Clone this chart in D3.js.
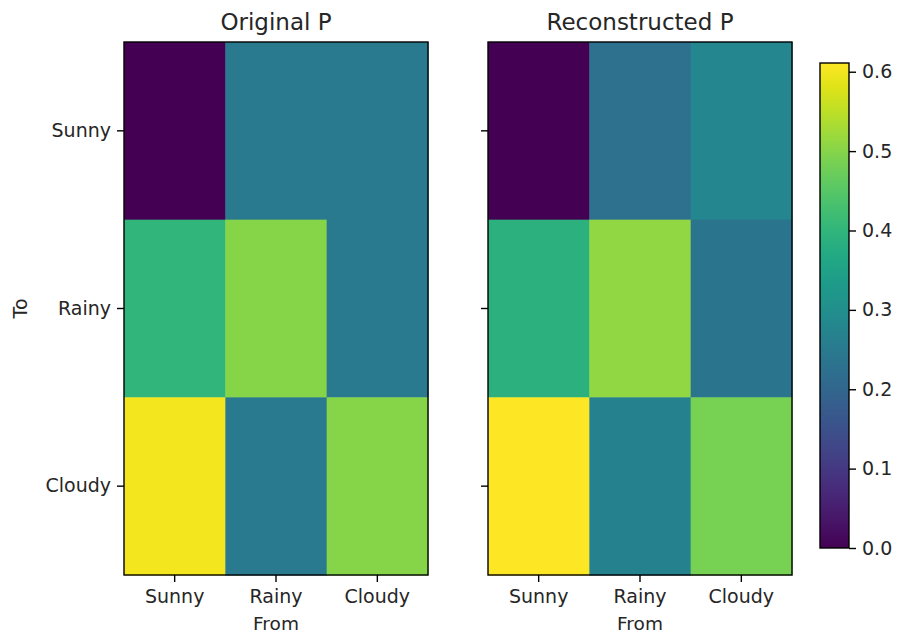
<!DOCTYPE html>
<html>
<head>
<meta charset="utf-8">
<script src="https://cdn.jsdelivr.net/npm/d3@7"></script>
<style>
  html, body { margin: 0; padding: 0; background: #fff; }
  svg { display: block; font-family: "DejaVu Sans", sans-serif; }
</style>
</head>
<body>
<svg id="chart" width="904" height="635"></svg>
<script>
// Weather states (rows = "To", columns = "From")
const states = ["Sunny", "Rainy", "Cloudy"];

// Transition matrix as given
const originalP = [
  [0.00, 0.25, 0.25],
  [0.40, 0.50, 0.25],
  [0.60, 0.25, 0.50]
];

// Transition matrix recovered from data
const reconstructedP = [
  [0.000, 0.225, 0.280],
  [0.390, 0.510, 0.235],
  [0.611, 0.265, 0.485]
];

const panelTitles = ["Original P", "Reconstructed P"];
const colorTicks = [0.0, 0.1, 0.2, 0.3, 0.4, 0.5, 0.6];
const colorMax = 0.611;

const svg = d3.select("#chart");
const color = d3.scaleSequential(d3.interpolateViridis).domain([0, colorMax]);

const tickFont = 19, titleFont = 23;
const lineW = 1.4, tickLen = 7;
const textColor = "#262626";

const plotTop = 42, plotBottom = 575;
const panels = [
  { left: 124, right: 428, data: originalP, title: panelTitles[0], yLabels: true },
  { left: 488, right: 792, data: reconstructedP, title: panelTitles[1], yLabels: false }
];

const y = d3.scaleBand().domain(states).range([plotTop, plotBottom]).padding(0);

function styleAxis(sel, showText) {
  sel.select(".domain").remove();
  sel.selectAll("line").attr("stroke", "#000").attr("stroke-width", lineW);
  if (showText) {
    sel.selectAll("text")
      .attr("font-size", tickFont)
      .attr("font-family", "DejaVu Sans")
      .attr("fill", textColor);
  } else {
    sel.selectAll("text").remove();
  }
}

panels.forEach(p => {
  const x = d3.scaleBand().domain(states).range([p.left, p.right]).padding(0);
  const g = svg.append("g");

  const cells = [];
  p.data.forEach((row, i) => row.forEach((v, j) => cells.push({ to: states[i], from: states[j], v })));

  g.selectAll("rect.cell").data(cells).join("rect")
    .attr("class", "cell")
    .attr("x", d => x(d.from))
    .attr("y", d => y(d.to))
    .attr("width", x.bandwidth() + 0.5)
    .attr("height", y.bandwidth() + 0.5)
    .attr("fill", d => color(d.v));

  // frame
  g.append("rect")
    .attr("x", p.left).attr("y", plotTop)
    .attr("width", p.right - p.left).attr("height", plotBottom - plotTop)
    .attr("fill", "none").attr("stroke", "#000").attr("stroke-width", lineW);

  // x axis
  const xAxis = g.append("g")
    .attr("transform", `translate(0,${plotBottom})`)
    .call(d3.axisBottom(x).tickSize(tickLen).tickPadding(8));
  styleAxis(xAxis, true);

  // y axis
  const yAxis = g.append("g")
    .attr("transform", `translate(${p.left},0)`)
    .call(d3.axisLeft(y).tickSize(tickLen).tickPadding(6));
  styleAxis(yAxis, p.yLabels);

  // title
  g.append("text")
    .attr("x", (p.left + p.right) / 2).attr("y", 30)
    .attr("text-anchor", "middle")
    .attr("font-size", titleFont).attr("fill", textColor)
    .text(p.title);

  // x label
  g.append("text")
    .attr("x", (p.left + p.right) / 2).attr("y", 630)
    .attr("text-anchor", "middle")
    .attr("font-size", 18.5).attr("fill", textColor)
    .text("From");

  if (p.yLabels) {
    g.append("text")
      .attr("transform", `translate(27,${(plotTop + plotBottom) / 2}) rotate(-90)`)
      .attr("text-anchor", "middle")
      .attr("font-size", tickFont).attr("fill", textColor)
      .text("To");
  }
});

// colorbar
const cbLeft = 820, cbRight = 849, cbTop = 63, cbBottom = 548;
const cy = d3.scaleLinear().domain([0, colorMax]).range([cbBottom, cbTop]);
const defs = svg.append("defs");
const grad = defs.append("linearGradient").attr("id", "cbgrad")
  .attr("x1", 0).attr("y1", 1).attr("x2", 0).attr("y2", 0);
d3.range(0, 1.0001, 0.05).forEach(t => {
  grad.append("stop").attr("offset", t).attr("stop-color", color(t * colorMax));
});
svg.append("rect")
  .attr("x", cbLeft).attr("y", cbTop)
  .attr("width", cbRight - cbLeft).attr("height", cbBottom - cbTop)
  .attr("fill", "url(#cbgrad)")
  .attr("stroke", "#000").attr("stroke-width", lineW);

const cAxis = svg.append("g")
  .attr("transform", `translate(${cbRight},0)`)
  .call(d3.axisRight(cy).tickValues(colorTicks).tickFormat(d3.format(".1f")).tickSize(tickLen).tickPadding(6));
styleAxis(cAxis, true);
</script>
</body>
</html>
